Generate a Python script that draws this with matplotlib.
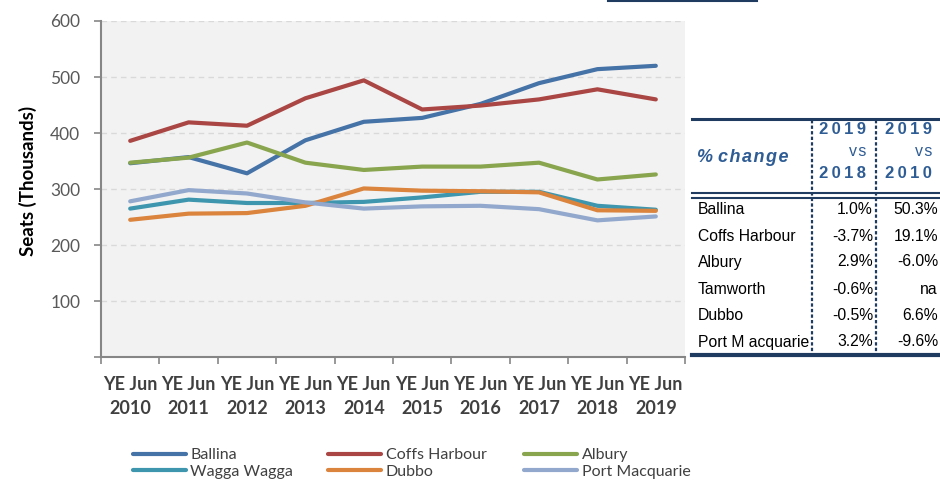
import matplotlib
matplotlib.use("Agg")
import matplotlib.pyplot as plt
from matplotlib.lines import Line2D

W, H = 940, 482

years = ["2010", "2011", "2012", "2013", "2014", "2015", "2016", "2017", "2018", "2019"]
tick_labels = ["YE Jun\n" + y for y in years]

ballina = [346, 357, 328, 387, 420, 427, 452, 489, 514, 520]
coffs_harbour = [386, 419, 413, 462, 494, 442, 449, 460, 478, 460]
albury = [347, 356, 383, 347, 334, 340, 340, 347, 317, 326]
wagga_wagga = [265, 281, 275, 275, 277, 285, 295, 295, 270, 263]
dubbo = [245, 256, 257, 270, 301, 297, 296, 294, 262, 261]
port_macquarie = [278, 298, 292, 276, 265, 269, 270, 264, 244, 251]

series = [
    ("Ballina", ballina, "#4572A7"),
    ("Coffs Harbour", coffs_harbour, "#AA4643"),
    ("Albury", albury, "#89A54E"),
    ("Wagga Wagga", wagga_wagga, "#3D96AE"),
    ("Dubbo", dubbo, "#DB843D"),
    ("Port Macquarie", port_macquarie, "#92A8CD"),
]

table_rows = ["Ballina", "Coffs Harbour", "Albury", "Tamworth", "Dubbo", "Port M acquarie"]
chg_vs_2018 = ["1.0%", "-3.7%", "2.9%", "-0.6%", "-0.5%", "3.2%"]
chg_vs_2010 = ["50.3%", "19.1%", "-6.0%", "na", "6.6%", "-9.6%"]

def fx(x):
    return x / W

def fy(y):
    return 1 - y / H

fig = plt.figure(figsize=(W / 100, H / 100), dpi=100)
ax = fig.add_axes([fx(101), fy(357), fx(685) - fx(101), fy(21) - fy(357)])
ax.set_facecolor("#F2F2F2")

x = list(range(len(years)))
lines = []
for name, vals, col in series:
    ln, = ax.plot(x, vals, color=col, lw=3.0, solid_capstyle="round", solid_joinstyle="round", label=name, zorder=3)
    lines.append(ln)

ax.set_xlim(-0.5, len(years) - 0.5)
ax.set_ylim(0, 600)
ax.set_yticks([0, 100, 200, 300, 400, 500, 600])
ax.set_yticklabels(["", "100", "200", "300", "400", "500", "600"])
ax.yaxis.grid(True, color="#D9D9D9", linestyle=(0, (4, 3)), lw=1)
ax.set_axisbelow(True)

ax.set_xticks([i - 0.5 for i in range(len(years) + 1)])
ax.set_xticklabels([])
ax.set_xticks(x, minor=True)
ax.set_xticklabels(tick_labels, minor=True, fontfamily="Lato", fontweight="bold",
                   fontsize=13, color="#404040", linespacing=1.5)
ax.tick_params(axis="x", which="minor", length=0, pad=14)
ax.tick_params(axis="x", which="major", length=5, color="#868686", width=1.2)
ax.tick_params(axis="y", length=5, color="#868686", width=1.2, labelsize=12.5,
               labelcolor="#595959", pad=10)
for lab in ax.get_yticklabels():
    lab.set_fontfamily("Lato")

for s in ["top", "right"]:
    ax.spines[s].set_visible(False)
for s in ["left", "bottom"]:
    ax.spines[s].set_color("#868686")
    ax.spines[s].set_linewidth(1.5)

fig.text(fx(28), fy(181), "Seats (Thousands)", rotation=90, ha="center", va="center",
         fontfamily="Lato", fontweight="bold", fontsize=13.5, color="black")

# legend: three columns
col_x = [133, 328, 524]
for c in range(3):
    handles = [lines[c], lines[c + 3]]
    leg = fig.legend(handles=handles, labels=[h.get_label() for h in handles],
                     loc="upper left", bbox_to_anchor=(fx(col_x[c]), fy(448)),
                     frameon=False, borderpad=0, borderaxespad=0, handlelength=3.3,
                     handletextpad=0.3, labelspacing=0.15,
                     prop={"family": "Lato", "size": 11.5})
    for t in leg.get_texts():
        t.set_color("#404040")

# top fragment line
fig.add_artist(Line2D([fx(608), fx(757)], [fy(0.5), fy(0.5)], color="#1F3B5F", lw=1.5))

# table
navy = "#1F3B5F"
hdr = "#2E5C94"
tx0, tx1 = 692, 940
fig.add_artist(Line2D([fx(tx0), fx(tx1)], [fy(119), fy(119)], color=navy, lw=2.2))
fig.add_artist(Line2D([fx(tx0), fx(tx1)], [fy(193), fy(193)], color=navy, lw=1.5))
fig.add_artist(Line2D([fx(tx0), fx(tx1)], [fy(197.5), fy(197.5)], color=navy, lw=1.5))
fig.add_artist(Line2D([fx(tx0), fx(tx1)], [fy(355), fy(355)], color=navy, lw=3))
for vx in [812, 875.5]:
    fig.add_artist(Line2D([fx(vx), fx(vx)], [fy(120), fy(354)], color=navy, lw=1.6,
                          linestyle=(0, (1.5, 1))))

hs = "\u200a"
fig.text(fx(697), fy(158), "% " + hs.join("change"), ha="left", va="center",
         fontfamily="Liberation Sans", fontweight="bold", fontstyle="italic", fontsize=13, color=hdr)
ts = "\u2009"
for rx, yr in [(866, "2018"), (932, "2010")]:
    fig.text(fx(rx), fy(130), ts.join("2019"), ha="right", va="center", fontfamily="Liberation Sans",
             fontweight="bold", fontsize=12, color=hdr)
    fig.text(fx(rx), fy(152), hs.join("vs"), ha="right", va="center", fontfamily="Liberation Sans",
             fontsize=11.5, color=hdr)
    fig.text(fx(rx), fy(174), ts.join(yr), ha="right", va="center", fontfamily="Liberation Sans",
             fontweight="bold", fontsize=12, color=hdr)

row_y = [209, 236, 262, 289, 315, 342]
for i, name in enumerate(table_rows):
    fig.text(fx(698), fy(row_y[i]), name, ha="left", va="center", fontfamily="Liberation Sans",
             fontsize=11.3, color="black")
    fig.text(fx(873), fy(row_y[i]), chg_vs_2018[i], ha="right", va="center",
             fontfamily="Liberation Sans", fontsize=11.3, color="black")
    fig.text(fx(938), fy(row_y[i]), chg_vs_2010[i], ha="right", va="center",
             fontfamily="Liberation Sans", fontsize=11.3, color="black")

fig.savefig("out.png", dpi=100, facecolor="white")
